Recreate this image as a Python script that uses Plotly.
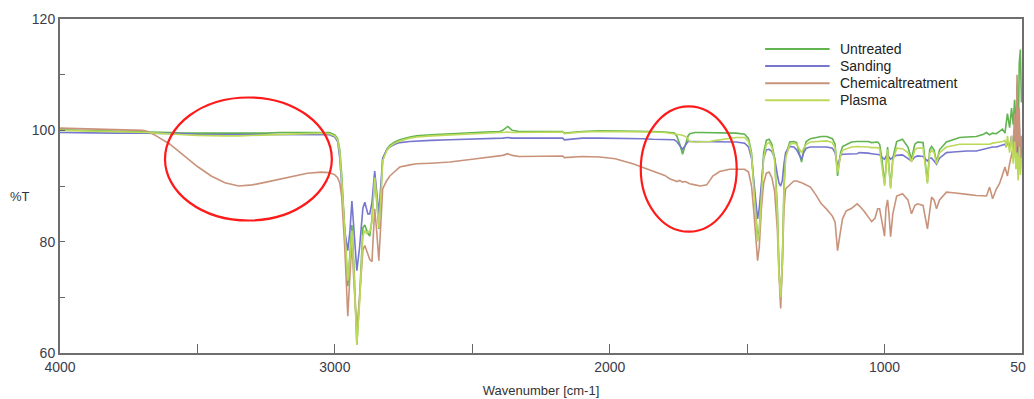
import plotly.graph_objects as go

wavenumber = [4000, 3900, 3800, 3700, 3680, 3650, 3600, 3550, 3500, 3450, 3400, 3350, 3300, 3250, 3200, 3150, 3100, 3050, 3020, 3000,
              2990, 2982, 2975, 2964, 2953, 2945, 2938, 2930, 2920, 2910, 2898, 2891, 2885, 2880, 2873, 2865, 2855, 2848, 2840, 2833,
              2826, 2811, 2800, 2782, 2764, 2727, 2702, 2650, 2582, 2500, 2450, 2400, 2389, 2371, 2355, 2330, 2250, 2171, 2165, 2100,
              2036, 1980, 1916, 1880, 1844, 1800, 1782, 1765, 1756, 1745, 1735, 1725, 1715, 1709, 1690, 1670, 1647, 1635, 1625, 1600,
              1564, 1540, 1509, 1495, 1484, 1475, 1467, 1462, 1456, 1448, 1440, 1430, 1420, 1410, 1400, 1390, 1384, 1378, 1372, 1366,
              1360, 1345, 1330, 1320, 1310, 1302, 1294, 1285, 1270, 1250, 1230, 1210, 1190, 1180, 1171, 1160, 1153, 1140, 1120, 1100,
              1091, 1075, 1060, 1047, 1035, 1025, 1018, 1010, 1000, 995, 989, 984, 978, 970, 956, 935, 915, 902, 890, 880,
              860, 844, 836, 829, 820, 811, 800, 775, 750, 727, 700, 666, 640, 629, 618, 607, 593, 582, 571, 562,
              557, 553, 545, 538, 532, 527, 522, 518, 514, 510, 506, 502, 500]

untreated = [100.1, 100.0, 99.9, 99.8, 99.8, 99.7, 99.6, 99.5, 99.5, 99.4, 99.4, 99.4, 99.5, 99.5, 99.6, 99.6, 99.7, 99.7, 99.6, 99.2,
             98.5, 96.5, 92, 82, 72, 78, 83, 75, 61.5, 70, 82.5, 83, 82, 81.5, 81, 84, 92, 88, 82.3, 88,
             94.8, 96.6, 97.3, 97.9, 98.3, 98.8, 99.0, 99.2, 99.4, 99.6, 99.7, 99.8, 100.0, 100.7, 100.0, 99.8, 99.8, 99.8, 99.5, 99.8,
             99.9, 99.9, 99.9, 99.8, 99.8, 99.7, 99.6, 99.5, 99.0, 97.5, 95.7, 97.5, 99.0, 99.4, 99.6, 99.6, 99.6, 99.6, 99.6, 99.6,
             99.6, 99.5, 99.3, 98.5, 96, 90, 83, 80.5, 82, 90, 96, 98.2, 98.4, 97.5, 95, 86, 75, 69.8, 76, 90,
             95.5, 97.9, 98, 97.8, 96, 94.3, 96.5, 98, 98.5, 98.7, 98.9, 98.9, 98.5, 97.5, 91.8, 96, 97.1, 97.4, 97.9, 98.0,
             98.0, 98.1, 98.0, 97.8, 97.9, 97.9, 97.5, 95, 90.4, 93.5, 97, 93.5, 89.8, 95, 98, 98.4, 97, 94.8, 97.5, 97.9,
             97.8, 90.7, 96.5, 97.1, 96.5, 94.3, 96.5, 97.9, 98.3, 98.7, 98.8, 98.9, 99.3, 99.6, 99.2, 99.5, 99.4, 99.8, 100.2, 99.5,
             101, 103, 100.5, 104, 101, 105.5, 99, 108, 97, 112, 114.5, 105, 106]

sanding = [99.6, 99.5, 99.5, 99.5, 99.5, 99.5, 99.4, 99.4, 99.3, 99.3, 99.2, 99.2, 99.2, 99.2, 99.2, 99.3, 99.3, 99.3, 99.2, 98.8,
           98, 95, 90, 82, 78.4, 82, 87.3, 82, 74.8, 79, 86, 87.1, 86, 85, 85, 87, 92.7, 89, 85, 90,
           95, 96.5, 97, 97.5, 97.8, 98, 98.1, 98.2, 98.3, 98.4, 98.5, 98.6, 98.6, 98.7, 98.6, 98.6, 98.6, 98.6, 98.3, 98.6,
           98.6, 98.6, 98.5, 98.5, 98.4, 98.4, 98.4, 98.3, 98, 97.2, 96.6, 97.3, 98, 98, 98, 98, 98, 98, 98, 98,
           98, 97.9, 97.7, 97, 95, 90, 86, 84.1, 86, 91, 95, 96.5, 96.6, 96.2, 95, 92, 90.5, 90, 91, 94,
           96, 97.1, 97, 96.5, 95.5, 94.8, 96, 96.8, 97, 97, 97, 97, 96.8, 96, 93.4, 95.5, 95.7, 95.7, 95.7, 95.8,
           96, 96, 95.9, 95.8, 95.7, 95.7, 95.6, 95.2, 94.8, 95.3, 95.6, 95.2, 94.8, 95.2, 95.5, 95.6, 95, 94.5, 95.2, 95.4,
           95.3, 94.5, 95, 95, 94.5, 93.9, 95, 96, 96.1, 96.2, 96.3, 96.3, 96.6, 96.8, 96.8, 97, 97, 97.2, 97.3, 97.5,
           97, 98, 97, 99, 96, 100, 95, 98, 92, 101, 94, 97, 96]

chemical = [100.4, 100.3, 100.2, 100.0, 99.8, 99.0, 97.5, 95.5, 93.5, 91.8, 90.6, 90.0, 90.2, 90.7, 91.2, 91.8, 92.3, 92.5, 92.4, 92.0,
            91.5, 90.5, 88, 79, 66.6, 74, 80, 72, 64, 70, 78.5, 79.3, 78.5, 77.5, 76.8, 76.4, 85.9, 82, 76.6, 83,
            89.5, 91, 91.8, 92.6, 93.4, 93.8, 94, 94.1, 94.3, 94.8, 95.1, 95.4, 95.5, 95.8, 95.5, 95.3, 95.3, 95.4, 95.1, 95.3,
            95.2, 94.9, 94.0, 93.3, 92.7, 91.9, 91.3, 91.0, 90.8, 91.0, 90.7, 90.8, 90.5, 90.4, 90.2, 90.0, 90.2, 91.2, 91.8, 92.6,
            93.0, 93.0, 93.0, 92.5, 90, 85, 79, 76.6, 79, 86, 90.5, 92.3, 92.5, 91.5, 89, 82, 74, 68, 76, 85.9,
            89.5, 90.2, 90.9, 90.9, 90.8, 90.6, 90.4, 90.2, 89.8, 88.4, 86.8, 85.8, 84.6, 83.5, 78.4, 82, 84.1, 85.5, 86.0, 86.8,
            86.4, 85.5, 84.5, 83.6, 84.2, 85.9, 85.9, 84, 81, 86, 87.5, 85, 80.9, 85, 88.2, 88.6, 87.5, 85, 86.5, 86.8,
            86.5, 82.3, 86, 88, 87.5, 85.9, 87.5, 88.9, 88.8, 88.6, 88.5, 88.3, 88.2, 88.2, 89.8, 87.7, 89.5, 90.4, 92, 93.4,
            92.5, 91.8, 94, 95.4, 97, 103, 94, 110, 97, 104, 93, 99, 98]

plasma = [100.0, 99.9, 99.8, 99.7, 99.6, 99.5, 99.3, 99.2, 99.1, 99.0, 99.0, 99.0, 99.1, 99.2, 99.3, 99.4, 99.5, 99.5, 99.4, 99.0,
          98.3, 96, 91, 81, 73, 77, 82, 74, 61.5, 69, 81, 82, 81.5, 81.8, 81.8, 83.5, 91.5, 88, 82.5, 88,
          94.5, 96.4, 97.1, 97.7, 98.1, 98.6, 98.8, 99.0, 99.2, 99.4, 99.5, 99.6, 99.6, 99.7, 99.6, 99.6, 99.7, 99.7, 99.4, 99.7,
          99.8, 99.8, 99.8, 99.7, 99.7, 99.6, 99.5, 99.4, 99.3, 99.2, 99.1, 98.9, 98.5, 98.0, 97.9, 97.9, 97.9, 98.0, 98.1, 98.3,
          98.5, 98.7, 98.7, 98, 95.5, 89, 82, 80, 81.5, 89, 95, 97.5, 97.8, 97, 94.5, 85, 74, 70, 76, 89,
          95, 97.5, 97.7, 97.5, 96.6, 96, 96.8, 97.5, 97.9, 98.0, 98.1, 98.1, 97.8, 96.8, 92.4, 95.5, 96.4, 96.6, 97, 97.1,
          97.1, 97.1, 97, 96.9, 96.9, 96.9, 96.6, 94, 90, 93, 96.5, 93, 89.5, 94.5, 96.8, 96.7, 96, 94.3, 96.5, 96.8,
          96.8, 90.4, 95.8, 96.5, 96, 94, 96, 97, 97.3, 97.5, 97.5, 97.5, 97.5, 97.5, 97.5, 97.7, 97.8, 97.9, 98, 98.2,
          97, 99, 96, 99, 94, 98, 93, 96, 91, 97, 92, 95, 94]

series_names = ["Untreated", "Sanding", "Chemicaltreatment", "Plasma"]
series_values = [untreated, sanding, chemical, plasma]
series_colors = ["#62b450", "#7676d0", "#c9937b", "#bcd95a"]

x_tick_values = [4000, 3000, 2000, 1000, 500]
x_tick_labels = ["4000", "3000", "2000", "1000", "500"]
y_tick_values = [60, 80, 100, 120]
y_tick_labels = ["60", "80", "100", "120"]

# highlighted regions (wavenumber from/to, %T from/to)
ellipse_x = [[3618, 3011], [1887, 1538]]
ellipse_y = [[83.8, 105.9], [81.8, 104.3]]

FONT = "Liberation Sans, Arial, sans-serif"

fig = go.Figure()
for name, vals, col in zip(series_names, series_values, series_colors):
    fig.add_trace(go.Scatter(x=wavenumber, y=vals, mode="lines", name=name,
                             line=dict(color=col, width=1.6), showlegend=False))

for (xa, xb), (ya, yb) in zip(ellipse_x, ellipse_y):
    fig.add_shape(type="circle", xref="x", yref="y", x0=xa, x1=xb, y0=ya, y1=yb,
                  line=dict(color="#ff1a1a", width=2.2))

# legend drawn as sample lines + labels (paper coordinates)
legend_top = 0.910
legend_step = 0.051
for i, (name, col) in enumerate(zip(series_names, series_colors)):
    yy = legend_top - i * legend_step
    fig.add_shape(type="line", xref="paper", yref="paper", x0=0.733, x1=0.800, y0=yy, y1=yy,
                  line=dict(color=col, width=2))
    fig.add_annotation(text=name, xref="paper", yref="paper", x=0.8087, y=yy,
                       xanchor="left", yanchor="middle", showarrow=False,
                       font=dict(family=FONT, size=14, color="#222222"))

tick_font = dict(family=FONT, size=14, color="#3c3c4c")

fig.update_layout(
    width=1034, height=391,
    margin=dict(l=52, r=20, t=11, b=46, autoexpand=False),
    paper_bgcolor="white", plot_bgcolor="white",
    showlegend=False,
    xaxis=dict(range=[4000, 500], autorange=False, tickmode="array",
               tickvals=x_tick_values, ticktext=x_tick_labels, automargin=False,
               ticks="inside", ticklen=9, tickcolor="#666666", tickwidth=1,
               minor=dict(dtick=500, tick0=0, ticks="inside", ticklen=9, tickcolor="#666666", showgrid=False),
               showgrid=False, zeroline=False, showline=True, linecolor="#6e6e6e", linewidth=2, mirror=True,
               tickfont=tick_font,
               title=dict(text="Wavenumber [cm-1]", standoff=12,
                          font=dict(family=FONT, size=13, color="#333333"))),
    yaxis=dict(range=[60, 120], autorange=False, tickmode="array",
               tickvals=y_tick_values, ticktext=y_tick_labels, automargin=False,
               ticks="inside", ticklen=5, tickcolor="#666666",
               minor=dict(dtick=10, tick0=0, ticks="inside", ticklen=5, tickcolor="#666666", showgrid=False),
               showgrid=False, zeroline=False, showline=True, linecolor="#6e6e6e", linewidth=2, mirror=True,
               tickfont=tick_font),
)

fig.add_annotation(text="%T", xref="paper", yref="paper", x=-0.029, y=0.47,
                   xanchor="right", yanchor="middle", showarrow=False,
                   font=dict(family=FONT, size=13, color="#333344"))

fig.write_html("out.html")
